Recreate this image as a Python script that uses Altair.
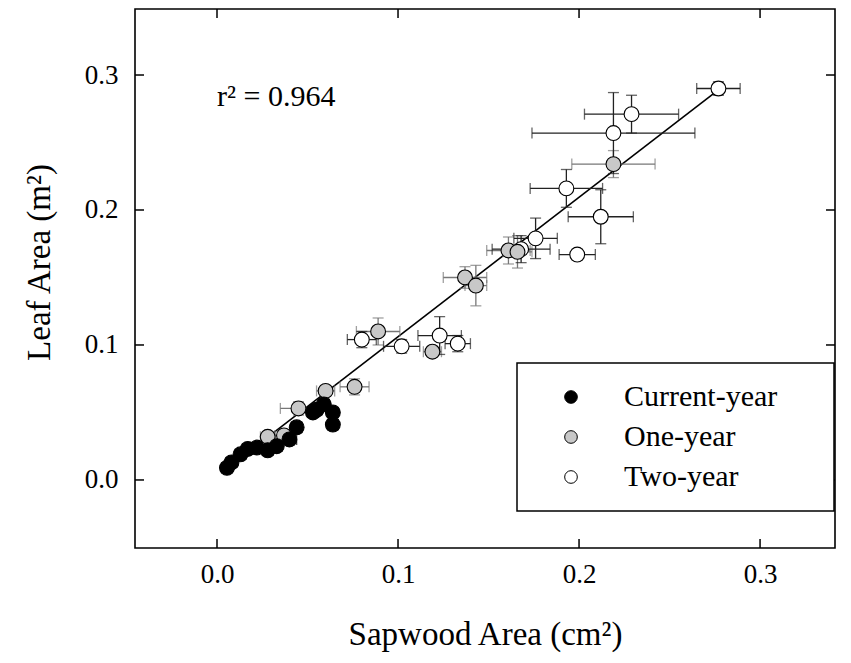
import altair as alt
import pandas as pd

groups = ["Current-year", "One-year", "Two-year"]
fills = ["black", "#c8c8c8", "white"]
bar_colors = ["black", "#777777", "#222222"]

cur_x = [0.0055, 0.008, 0.013, 0.017, 0.022, 0.028, 0.033, 0.040, 0.044, 0.053, 0.055, 0.059, 0.064, 0.064]
cur_y = [0.009, 0.013, 0.019, 0.023, 0.024, 0.022, 0.025, 0.030, 0.039, 0.050, 0.052, 0.056, 0.050, 0.041]
cur_xe = [0.003, 0.003, 0.003, 0.003, 0.003, 0.003, 0.003, 0.004, 0.003, 0.003, 0.003, 0.003, 0.003, 0.003]
cur_ye = [0.003, 0.003, 0.003, 0.003, 0.003, 0.003, 0.003, 0.004, 0.004, 0.003, 0.003, 0.003, 0.003, 0.004]

one_x = [0.028, 0.037, 0.045, 0.060, 0.076, 0.089, 0.119, 0.137, 0.143, 0.161, 0.166, 0.219]
one_y = [0.032, 0.033, 0.053, 0.066, 0.069, 0.110, 0.095, 0.150, 0.144, 0.170, 0.169, 0.234]
one_xe = [0.004, 0.005, 0.010, 0.005, 0.008, 0.012, 0.005, 0.012, 0.006, 0.012, 0.008, 0.023]
one_ye = [0.004, 0.004, 0.005, 0.004, 0.006, 0.010, 0.004, 0.008, 0.015, 0.010, 0.012, 0.010]

two_x = [0.080, 0.102, 0.123, 0.133, 0.168, 0.176, 0.193, 0.199, 0.212, 0.219, 0.229, 0.277]
two_y = [0.104, 0.099, 0.107, 0.101, 0.171, 0.179, 0.216, 0.167, 0.195, 0.257, 0.271, 0.290]
two_xe = [0.008, 0.010, 0.012, 0.007, 0.016, 0.012, 0.020, 0.010, 0.018, 0.045, 0.026, 0.012]
two_ye = [0.006, 0.005, 0.014, 0.006, 0.010, 0.015, 0.014, 0.004, 0.020, 0.030, 0.014, 0.005]

fit_x = [0.005, 0.277]
fit_y = [0.008, 0.289]

tick_vals = [0.0, 0.1, 0.2, 0.3]
r2_label = "r\u00b2 = 0.964"
r2_pos = (0.0, 0.284)

rows = []
for g, xs_, ys_, xe_, ye_ in [
    (groups[0], cur_x, cur_y, cur_xe, cur_ye),
    (groups[1], one_x, one_y, one_xe, one_ye),
    (groups[2], two_x, two_y, two_xe, two_ye),
]:
    for x, y, xe, ye in zip(xs_, ys_, xe_, ye_):
        rows.append(dict(group=g, x=x, y=y, xlo=x - xe, xhi=x + xe, ylo=y - ye, yhi=y + ye))
df = pd.DataFrame(rows)

W, H = 700, 539
FONT = "Liberation Serif"

xscale = alt.Scale(domain=[-0.0453, 0.3414], nice=False, zero=False)
yscale = alt.Scale(domain=[-0.0504, 0.3489], nice=False, zero=False)

xaxis = alt.Axis(values=tick_vals, format=".1f", ticks=False, domain=False, grid=False,
                 labelFontSize=27, labelPadding=13, labelFont=FONT, labelColor="black",
                 titleFontSize=33, titleFont=FONT, titleFontWeight="normal", titleColor="black",
                 titlePadding=31)
yaxis = alt.Axis(values=tick_vals, format=".1f", ticks=False, domain=False, grid=False,
                 labelFontSize=27, labelPadding=17, labelFont=FONT, labelColor="black",
                 titleFontSize=33, titleFont=FONT, titleFontWeight="normal", titleColor="black",
                 titleX=-96, titleY=253, titleBaseline="middle", titleAlign="center", titleAngle=-90)

XT = "Sapwood Area (cm\u00b2)"
YT = "Leaf Area (m\u00b2)"

def X(f):
    return alt.X(f, type="quantitative", scale=xscale, axis=xaxis, title=XT)

def Y(f):
    return alt.Y(f, type="quantitative", scale=yscale, axis=yaxis, title=YT)

layers = []

fit_df = pd.DataFrame({"x": fit_x, "y": fit_y})
layers.append(alt.Chart(fit_df).mark_line(color="black", strokeWidth=1.6).encode(x=X("x"), y=Y("y")))

for g, c in zip(groups, bar_colors):
    sub = df[df.group == g]
    layers.append(alt.Chart(sub).mark_errorbar(ticks={"size": 11}, color=c, thickness=1.3).encode(
        x=X("xlo"), x2="xhi", y=Y("y")))
    layers.append(alt.Chart(sub).mark_errorbar(ticks={"size": 11}, color=c, thickness=1.3).encode(
        y=Y("ylo"), y2="yhi", x=X("x")))

order_df = df.copy()
order_df["ord"] = order_df.group.map({groups[2]: 0, groups[1]: 1, groups[0]: 2})
pad_expr = "datum.label + '" + "\u00a0" * 5 + "\u200b'"
layers.append(alt.Chart(order_df).mark_point(shape="circle", filled=True, size=220, stroke="black",
                                             strokeWidth=1.1, opacity=1).encode(
    x=X("x"), y=Y("y"),
    fill=alt.Fill("group:N", scale=alt.Scale(domain=groups, range=fills),
                  legend=alt.Legend(title=None, orient="none", legendX=382, legendY=354,
                                    strokeColor="black", padding=19, fillColor="white",
                                    labelFont=FONT, labelFontSize=30, labelColor="black",
                                    labelExpr=pad_expr,
                                    labelLimit=400,
                                    symbolSize=160, symbolStrokeColor="black", symbolStrokeWidth=1,
                                    symbolType="circle", rowPadding=10, labelOffset=38,
                                    symbolOffset=20)),
    order=alt.Order("ord:Q")))

tick_df = pd.DataFrame({"v": tick_vals})
tl = 9
layers.append(alt.Chart(tick_df).mark_rule(color="black", strokeWidth=1.5).encode(
    x=X("v"), y=alt.value(H), y2=alt.value(H - tl)))
layers.append(alt.Chart(tick_df).mark_rule(color="black", strokeWidth=1.5).encode(
    x=X("v"), y=alt.value(0), y2=alt.value(tl)))
layers.append(alt.Chart(tick_df).mark_rule(color="black", strokeWidth=1.5).encode(
    y=Y("v"), x=alt.value(0), x2=alt.value(tl)))
layers.append(alt.Chart(tick_df).mark_rule(color="black", strokeWidth=1.5).encode(
    y=Y("v"), x=alt.value(W), x2=alt.value(W - tl)))

r2_df = pd.DataFrame({"x": [r2_pos[0]], "y": [r2_pos[1]], "t": [r2_label]})
layers.append(alt.Chart(r2_df).mark_text(align="left", baseline="middle", font=FONT, fontSize=30,
                                         color="black").encode(x=X("x"), y=Y("y"), text="t:N"))

chart = alt.layer(*layers).properties(
    width=W, height=H, autosize="none",
    padding={"left": 127, "top": 1, "right": 8, "bottom": 110},
).configure(font=FONT).configure_view(stroke="black", strokeWidth=1.6).configure_legend(strokeWidth=1.5)

chart.save("out.html", embed_options={"renderer": "svg", "actions": False})
